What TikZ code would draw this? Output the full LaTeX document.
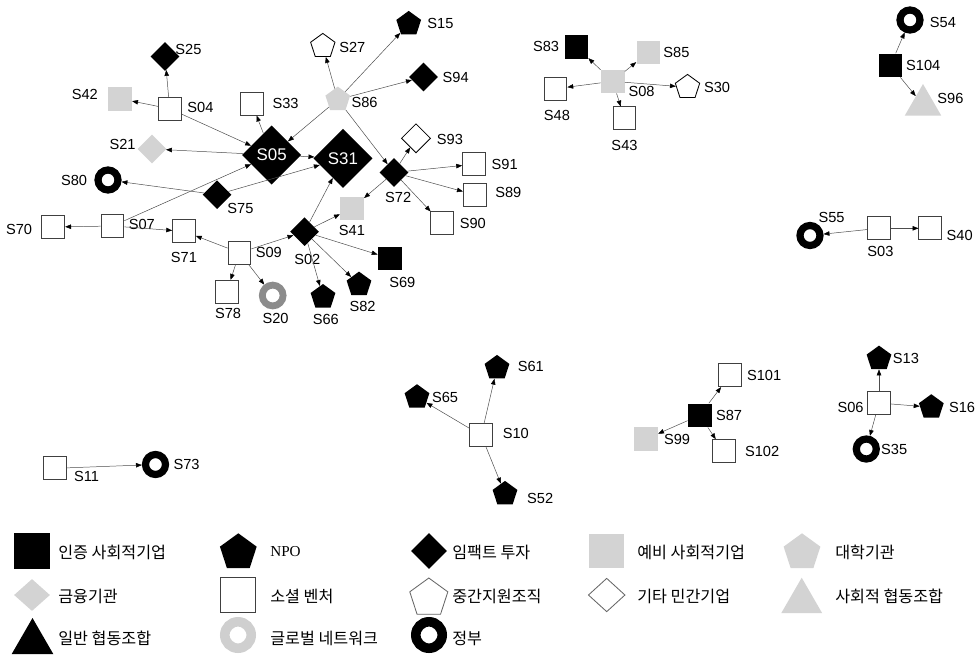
\documentclass[tikz,border=0pt]{standalone}
\usepackage{fontspec}
\setmainfont{Liberation Sans}
\newfontfamily\krfont{Noto Sans CJK KR}
\newfontfamily\serfont{Liberation Serif}
\usepackage{xcolor}
\usepackage{tikz}
\usetikzlibrary{positioning,shapes.geometric,arrows.meta}
\definecolor{nodeGray}{HTML}{D3D3D3}
\definecolor{ringGray}{HTML}{8C8C8C}
\definecolor{ringLight}{HTML}{CFCFCF}
\definecolor{lineGray}{HTML}{4D4D4D}

\begin{document}
\begin{tikzpicture}[x=0.025cm, y=-0.025cm,
  certse/.style={rectangle, fill=black, minimum size=0.59cm, inner sep=0pt},
  presoc/.style={rectangle, fill=nodeGray, minimum size=0.59cm, inner sep=0pt},
  venture/.style={rectangle, draw=black!75, fill=white, line width=0.6pt, minimum size=0.57cm, inner sep=0pt},
  impact/.style={diamond, fill=black, minimum size=0.72cm, inner sep=0pt},
  finance/.style={diamond, fill=nodeGray, minimum size=0.72cm, inner sep=0pt},
  corp/.style={diamond, draw=black, fill=white, line width=0.6pt, minimum size=0.73cm, inner sep=0pt},
  npo/.style={regular polygon, regular polygon sides=5, fill=black, minimum size=0.65cm, inner sep=0pt},
  univ/.style={regular polygon, regular polygon sides=5, fill=nodeGray, minimum size=0.65cm, inner sep=0pt},
  midorg/.style={regular polygon, regular polygon sides=5, draw=black, fill=white, line width=0.6pt, minimum size=0.64cm, inner sep=0pt},
  socoop/.style={regular polygon, regular polygon sides=3, fill=nodeGray, minimum size=1.05cm, inner sep=0pt},
  coop/.style={regular polygon, regular polygon sides=3, fill=black, minimum size=1.2cm, inner sep=0pt},
  gov/.style={circle, draw=black, line width=0.18cm, minimum size=0.5cm, inner sep=0pt},
  globnet/.style={circle, draw=ringGray, line width=0.17cm, minimum size=0.52cm, inner sep=0pt},
  hub/.style={diamond, fill=black, minimum size=1.48cm, inner sep=0pt, text=white, font=\fontsize{12}{14}\selectfont},
  lbl/.style={inner sep=0pt, font=\fontsize{10.4}{12}\selectfont},
  legtxt/.style={anchor=west, inner sep=0pt, font=\krfont\fontsize{11.5}{13}\selectfont},
  link/.style={draw=lineGray, line width=0.35pt, -{Triangle[length=4.2pt,width=3.2pt,color=black]}},
]
\useasboundingbox (0,0) rectangle (978,654);

% main cluster
\node[impact] (s25) at (165,56.5) {};
\node[lbl, right=2pt of s25.north east] (l25) {S25};
\node[presoc] (s42) at (120,98.7) {};
\node[lbl, left=7pt of s42, yshift=3pt] (l42) {S42};
\node[venture] (s04) at (169.7,108.7) {};
\node[lbl, right=4pt of s04, yshift=1pt] (l04) {S04};
\node[venture] (s33) at (252,103.7) {};
\node[lbl, right=6pt of s33] (l33) {S33};
\node[finance] (s21) at (152,149) {};
\node[lbl, left=1pt of s21, yshift=3.5pt] (l21) {S21};
\node[gov] (s80) at (108,180) {};
\node[lbl, left=5pt of s80] (l80) {S80};
\node[hub] (s05) at (271.7,155) {S05};
\node[hub] (s31) at (343,158.3) {S31};
\node[impact] (s75) at (217,194.7) {};
\node[lbl, below right=1pt and 2pt of s75.south east] (l75) {S75};
\node[venture] (s70) at (53.3,227) {};
\node[lbl, left=6.5pt of s70, yshift=-2pt] (l70) {S70};
\node[venture] (s07) at (112.5,226) {};
\node[lbl, right=3pt of s07, yshift=1pt] (l07) {S07};
\node[venture] (s71) at (184,231.3) {};
\node[lbl, below=6pt of s71] (l71) {S71};
\node[venture] (s09) at (239.5,252.7) {};
\node[lbl, right=3pt of s09] (l09) {S09};
\node[venture] (s78) at (226.7,291.7) {};
\node[lbl, below=3.5pt of s78, xshift=1pt] (l78) {S78};
\node[globnet] (s20) at (272.7,295.5) {};
\node[lbl, below=2.4pt of s20, xshift=2pt] (l20) {S20};
\node[impact] (s02) at (304.5,231.7) {};
\node[lbl, below=5.7pt of s02, xshift=2pt] (l02) {S02};
\node[presoc] (s41) at (352,208.3) {};
\node[lbl, below=3.5pt of s41] (l41) {S41};
\node[npo] (s66) at (323,297) {};
\node[lbl, below=4.7pt of s66, xshift=2pt] (l66) {S66};
\node[npo] (s82) at (359,284.6) {};
\node[lbl, below=4.3pt of s82, xshift=2.5pt] (l82) {S82};
\node[certse] (s69) at (389.7,258.3) {};
\node[lbl, below=4.7pt of s69, xshift=9pt] (l69) {S69};
\node[impact] (s72) at (394,172.5) {};
\node[lbl, below=3.5pt of s72, xshift=3pt] (l72) {S72};
\node[corp] (s93) at (416,138.3) {};
\node[lbl, right=4pt of s93, yshift=-1pt] (l93) {S93};
\node[venture] (s91) at (474,164.3) {};
\node[lbl, right=4pt of s91] (l91) {S91};
\node[venture] (s89) at (474.7,194.7) {};
\node[lbl, right=6pt of s89, yshift=1.5pt] (l89) {S89};
\node[venture] (s90) at (441.7,223.3) {};
\node[lbl, right=4.3pt of s90] (l90) {S90};
\node[univ] (s86) at (337.8,99.6) {};
\node[lbl, right=1.5pt of s86, yshift=-2pt] (l86) {S86};
\node[midorg] (s27) at (322.8,46.2) {};
\node[lbl, right=3.5pt of s27, yshift=-1pt] (l27) {S27};
\node[npo] (s15) at (408.7,23.9) {};
\node[lbl, right=5pt of s15] (l15) {S15};
\node[impact] (s94) at (423.5,77) {};
\node[lbl, right=3pt of s94] (l94) {S94};

\draw[link] (s04) -- (s25);
\draw[link] (s04) -- (s42);
\draw[link] (s04) -- (s05);
\draw[link] (s05) -- (s21);
\draw[link] (s05) -- (s33);
\draw[link] (s86) -- (s05);
\draw[link] (s05) -- (s31);
\draw[link] (s07) -- (s05);
\draw[link] (s75) -- (s80);
\draw[link] (s75) -- (s31);
\draw[link] (s86) -- (s27);
\draw[link] (s86) -- (s15);
\draw[link] (s86) -- (s94);
\draw[link] (s86) -- (s72);
\draw[link] (s72) -- (s93);
\draw[link] (s72) -- (s91);
\draw[link] (s72) -- (s89);
\draw[link] (s72) -- (s90);
\draw[link] (s72) -- (s41);
\draw[link] (s02) -- (s31);
\draw[link] (s02) -- (s41);
\draw[link] (s02) -- (s69);
\draw[link] (s02) -- (s82);
\draw[link] (s02) -- (s66);
\draw[link] (s09) -- (s02);
\draw[link] (s09) -- (s71);
\draw[link] (s09) -- (s78);
\draw[link] (s09) -- (s20);
\draw[link] (s07) -- (s70);
\draw[link] (s07) -- (s71);

% S08 group
\node[presoc] (s08) at (612.7,81.3) {};
\node[lbl, right=2.5pt of s08, yshift=-7pt] (l08) {S08};
\node[certse] (s83) at (576.3,46.7) {};
\node[lbl, left=3.5pt of s83] (l83) {S83};
\node[presoc] (s85) at (648.3,52.3) {};
\node[lbl, right=2pt of s85] (l85) {S85};
\node[venture] (s48) at (555.5,88.7) {};
\node[lbl, below=7pt of s48, xshift=1pt] (l48) {S48};
\node[venture] (s43) at (624.5,118.3) {};
\node[lbl, below=7pt of s43] (l43) {S43};
\node[midorg] (s30) at (687.5,87.2) {};
\node[lbl, right=3.5pt of s30] (l30) {S30};
\draw[link] (s08) -- (s83);
\draw[link] (s08) -- (s85);
\draw[link] (s08) -- (s48);
\draw[link] (s08) -- (s43);
\draw[link] (s08) -- (s30);

% S104 group
\node[certse] (s104) at (890.5,65.3) {};
\node[lbl, right=2.3pt of s104] (l104) {S104};
\node[gov] (s54) at (910,20) {};
\node[lbl, right=4.3pt of s54, yshift=-1.5pt] (l54) {S54};
\node[socoop] (s96) at (923,105) {};
\node[lbl, right=1.2pt of s96, yshift=5pt] (l96) {S96};
\draw[link] (s104) -- (s54);
\draw[link] (s104) -- (s96);

% S03 group
\node[venture] (s03) at (879,228.3) {};
\node[lbl, below=4.3pt of s03, xshift=1pt] (l03) {S03};
\node[gov] (s55) at (810,235.5) {};
\node[lbl, above right=2pt and -1pt of s55.north east] (l55) {S55};
\node[venture] (s40) at (930.3,228.3) {};
\node[lbl, right=3pt of s40, yshift=-5pt] (l40) {S40};
\draw[link] (s03) -- (s55);
\draw[link] (s03) -- (s40);

% S10 group
\node[venture] (s10) at (481.3,435.3) {};
\node[lbl, right=6.7pt of s10, yshift=1.5pt] (l10) {S10};
\node[npo] (s61) at (497,367.9) {};
\node[lbl, right=6.5pt of s61, yshift=1pt] (l61) {S61};
\node[npo] (s65) at (417,397.2) {};
\node[lbl, right=2.4pt of s65] (l65) {S65};
\node[npo] (s52) at (505,493.9) {};
\node[lbl, right=7.5pt of s52, yshift=-3.5pt] (l52) {S52};
\draw[link] (s10) -- (s61);
\draw[link] (s10) -- (s65);
\draw[link] (s10) -- (s52);

% S87 group
\node[certse] (s87) at (699.7,415.3) {};
\node[lbl, right=2.8pt of s87] (l87) {S87};
\node[venture] (s101) at (730,375.3) {};
\node[lbl, right=3.5pt of s101] (l101) {S101};
\node[presoc] (s99) at (646,439) {};
\node[lbl, right=4pt of s99] (l99) {S99};
\node[venture] (s102) at (723.7,451) {};
\node[lbl, right=6.6pt of s102] (l102) {S102};
\draw[link] (s87) -- (s101);
\draw[link] (s87) -- (s99);
\draw[link] (s87) -- (s102);

% S06 group
\node[venture] (s06) at (879,403) {};
\node[lbl, left=2.4pt of s06, yshift=-3pt] (l06) {S06};
\node[npo] (s13) at (879,358.6) {};
\node[lbl, right=1.6pt of s13] (l13) {S13};
\node[npo] (s16) at (931.3,407.2) {};
\node[lbl, right=4.3pt of s16] (l16) {S16};
\node[gov] (s35) at (866.3,449) {};
\node[lbl, right=0.7pt of s35] (l35) {S35};
\draw[link] (s06) -- (s13);
\draw[link] (s06) -- (s16);
\draw[link] (s06) -- (s35);

% S11
\node[venture] (s11) at (55,468.3) {};
\node[lbl, right=5pt of s11, yshift=-6pt] (l11) {S11};
\node[gov] (s73) at (155.5,464.5) {};
\node[lbl, right=3pt of s73] (l73) {S73};
\draw[link] (s11) -- (s73);

% legend
\node[certse, minimum size=0.88cm] (k1) at (32,551) {};
\node[legtxt] (t1) at (58,552) {인증 사회적기업};
\node[npo, minimum size=0.965cm] (k2) at (238.3,552.6) {};
\node[anchor=west, inner sep=0pt, font=\serfont\fontsize{10.8}{13}\selectfont] (t2) at (270,552) {NPO};
\node[impact, minimum size=0.9cm] (k3) at (429,551) {};
\node[legtxt] (t3) at (452,552) {임팩트 투자};
\node[presoc, minimum size=0.86cm] (k4) at (606.3,551) {};
\node[legtxt] (t4) at (637,552) {예비 사회적기업};
\node[univ, minimum size=0.965cm] (k5) at (802,552.6) {};
\node[legtxt] (t5) at (835,552) {대학기관};

\node[finance, minimum width=0.9cm, minimum height=0.8cm] (k6) at (32,595) {};
\node[legtxt] (t6) at (58,596) {금융기관};
\node[venture, minimum size=0.86cm] (k7) at (238,595) {};
\node[legtxt] (t7) at (270,596) {소셜 벤처};
\node[midorg, draw=black!60, minimum size=1.0cm] (k8) at (428.8,598) {};
\node[legtxt] (t8) at (452,596) {중간지원조직};
\node[corp, draw=black!60, minimum width=0.92cm, minimum height=0.84cm] (k9) at (606.7,595) {};
\node[legtxt] (t9) at (637,596) {기타 민간기업};
\node[socoop, minimum size=1.18cm] (k10) at (801.7,601.3) {};
\node[legtxt] (t10) at (835,596) {사회적 협동조합};

\node[coop] (k11) at (32.5,642) {};
\node[legtxt] (t11) at (58,638) {일반 협동조합};
\node[globnet, draw=ringLight, line width=0.24cm, minimum size=0.66cm] (k12) at (238,635) {};
\node[legtxt] (t12) at (270,638) {글로벌 네트워크};
\node[gov, line width=0.24cm, minimum size=0.66cm] (k13) at (429,635) {};
\node[legtxt] (t13) at (452,638) {정부};
\end{tikzpicture}
\end{document}
